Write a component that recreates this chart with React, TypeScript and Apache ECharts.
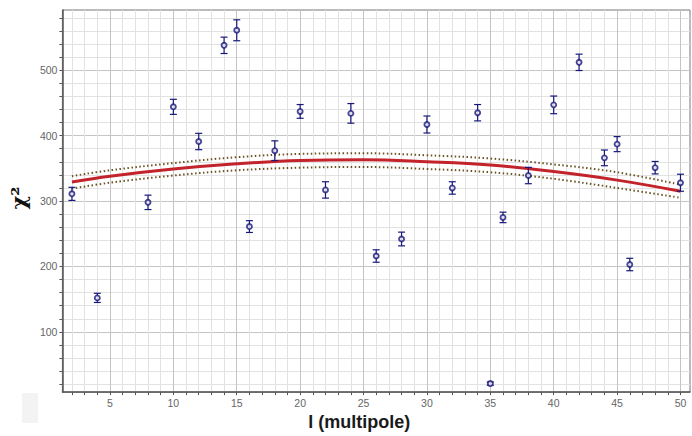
import React, { useEffect, useRef } from "react";
import * as echarts from "echarts";

// multipole l of each measured point
const pointX = [2, 4, 8, 10, 12, 14, 15, 16, 18, 20, 22, 24, 26, 28, 30, 32, 34, 35, 36, 38, 40, 42, 44, 45, 46, 48, 50];
// chi^2 of each point
const pointY = [311, 152, 298, 444, 391, 538, 561, 261, 377, 437, 317, 434, 216, 242, 417, 320, 435, 21, 275, 339, 447, 512, 366, 387, 203, 351, 328];
// half size of each error bar
const pointErr = [10, 7, 11, 11.5, 12.5, 12.5, 16, 9, 15, 10.5, 12.5, 15, 9.5, 10.5, 13, 9.5, 12.5, 2.5, 8, 12.5, 13.5, 12.5, 12, 11.5, 9.5, 9.5, 13];

// fitted curve and its confidence band
const fitX = [2, 5, 10, 15, 20, 25, 30, 35, 40, 45, 50];
const fitY = [329, 338, 349, 357, 362, 363, 360, 355, 345, 332, 315];
const fitUpper = [338, 347, 358, 367, 372, 373, 370, 365, 356, 344, 325];
const fitLower = [319, 328, 339, 347, 351, 352, 349, 344, 334, 320, 305];

// axes
const xRange = [1.25, 50.75];
const yRange = [8, 592];
const xMajorTicks = [5, 10, 15, 20, 25, 30, 35, 40, 45, 50];
const yMajorTicks = [100, 200, 300, 400, 500];
const xMinorStep = 1;
const yMinorStep = 20;

function steps(start: number, end: number, step: number): number[] {
  const out: number[] = [];
  for (let v = start; v <= end + 1e-9; v += step) out.push(v);
  return out;
}
const xMinorTicks = steps(2, 50, xMinorStep).filter((v) => xMajorTicks.indexOf(v) < 0);
const yMinorTicks = steps(20, 580, yMinorStep).filter((v) => yMajorTicks.indexOf(v) < 0);

const AXIS_COLOR = "#555555";
const MAJOR_GRID = "#c4c4c4";
const MINOR_GRID = "#e2e2e2";
const LABEL_COLOR = "#666666";
const NAVY = "#18187a";

export default function App() {
  const ref = useRef<HTMLDivElement>(null);

  useEffect(() => {
    if (!ref.current) return;
    const chart = echarts.init(ref.current, undefined, { renderer: "svg" });

    const pair = (xs: number[], ys: number[]) => xs.map((x, i) => [x, ys[i]]);

    const baseX = {
      type: "value" as const,
      min: xRange[0],
      max: xRange[1],
      position: "bottom" as const,
    };
    const baseY = {
      type: "value" as const,
      min: yRange[0],
      max: yRange[1],
      position: "left" as const,
    };

    chart.setOption({
      animation: false,
      backgroundColor: "#ffffff",
      grid: {
        left: 52,
        top: 10,
        width: 638,
        height: 393,
        show: true,
        borderColor: "#777777",
        borderWidth: 1,
        backgroundColor: "transparent",
      },
      graphic: [
        {
          type: "rect",
          shape: { x: 22, y: 393, width: 16, height: 30 },
          style: { fill: "#f3f3f3" },
          z: -1,
        },
      ],
      xAxis: [
        {
          ...baseX,
          name: "l (multipole)",
          nameLocation: "middle",
          nameGap: 13,
          nameTextStyle: {
            fontFamily: "Liberation Sans",
            fontWeight: "bold",
            fontSize: 18,
            color: "#1a1a1a",
            padding: [0, 34, 0, 0],
          },
          axisLine: { show: true, lineStyle: { color: AXIS_COLOR, width: 1.5 } },
          axisTick: {
            show: true,
            inside: false,
            length: 3,
            customValues: xMajorTicks,
            lineStyle: { color: AXIS_COLOR },
          },
          axisLabel: {
            customValues: xMajorTicks,
            color: LABEL_COLOR,
            fontFamily: "Liberation Sans",
            fontSize: 10.5,
            margin: 5,
          },
          splitLine: { show: true, lineStyle: { color: MAJOR_GRID, width: 1 } },
        },
        {
          ...baseX,
          axisLine: { show: false },
          axisTick: {
            show: true,
            inside: false,
            length: 3,
            customValues: xMinorTicks,
            lineStyle: { color: AXIS_COLOR },
          },
          axisLabel: { show: false },
          splitLine: { show: true, lineStyle: { color: MINOR_GRID, width: 1 } },
        },
      ],
      yAxis: [
        {
          ...baseY,
          name: "χ²",
          nameLocation: "middle",
          nameRotate: 90,
          nameGap: 25,
          nameTextStyle: {
            fontFamily: "DejaVu Serif",
            fontWeight: "bold",
            fontSize: 21,
            color: "#111111",
            padding: [0, 0, 0, 6],
          },
          axisLine: { show: true, lineStyle: { color: AXIS_COLOR, width: 1.5 } },
          axisTick: {
            show: true,
            inside: false,
            length: 3,
            customValues: yMajorTicks,
            lineStyle: { color: AXIS_COLOR },
          },
          axisLabel: {
            customValues: yMajorTicks,
            color: LABEL_COLOR,
            fontFamily: "Liberation Sans",
            fontSize: 10.5,
            margin: 5,
          },
          splitLine: { show: true, lineStyle: { color: MAJOR_GRID, width: 1 } },
        },
        {
          ...baseY,
          axisLine: { show: false },
          axisTick: {
            show: true,
            inside: false,
            length: 3,
            customValues: yMinorTicks,
            lineStyle: { color: AXIS_COLOR },
          },
          axisLabel: { show: false },
          splitLine: { show: true, lineStyle: { color: MINOR_GRID, width: 1 } },
        },
      ],
      series: [
        {
          name: "upper",
          type: "line",
          data: pair(fitX, fitUpper),
          smooth: 0.4,
          symbol: "none",
          lineStyle: { color: "#6a5320", width: 2, type: [1.5, 2.5] },
          z: 3,
        },
        {
          name: "lower",
          type: "line",
          data: pair(fitX, fitLower),
          smooth: 0.4,
          symbol: "none",
          lineStyle: { color: "#6a5320", width: 2, type: [1.5, 2.5] },
          z: 3,
        },
        {
          name: "fit",
          type: "line",
          data: pair(fitX, fitY),
          smooth: 0.4,
          symbol: "none",
          lineStyle: { color: "#c3232a", width: 3 },
          z: 4,
        },
        {
          name: "error",
          type: "custom",
          data: pointX.map((x, i) => [x, pointY[i] - pointErr[i], pointY[i] + pointErr[i]]),
          renderItem: (params: any, api: any) => {
            const x = api.value(0);
            const lo = api.coord([x, api.value(1)]);
            const hi = api.coord([x, api.value(2)]);
            const w = 3.5;
            const style = { stroke: NAVY, lineWidth: 1.2 };
            return {
              type: "group",
              children: [
                { type: "line", shape: { x1: lo[0], y1: lo[1], x2: hi[0], y2: hi[1] }, style },
                { type: "line", shape: { x1: lo[0] - w, y1: lo[1], x2: lo[0] + w, y2: lo[1] }, style },
                { type: "line", shape: { x1: hi[0] - w, y1: hi[1], x2: hi[0] + w, y2: hi[1] }, style },
              ],
            };
          },
          z: 5,
        },
        {
          name: "points",
          type: "scatter",
          data: pair(pointX, pointY),
          symbol: "circle",
          symbolSize: 5,
          itemStyle: { color: "#ffffff", borderColor: NAVY, borderWidth: 1.9 },
          z: 6,
        },
      ],
    });

    return () => chart.dispose();
  }, []);

  return (
    <div
      ref={ref}
      style={{ position: "fixed", left: 0, top: 0, width: 692, height: 436, background: "#fff" }}
    />
  );
}
